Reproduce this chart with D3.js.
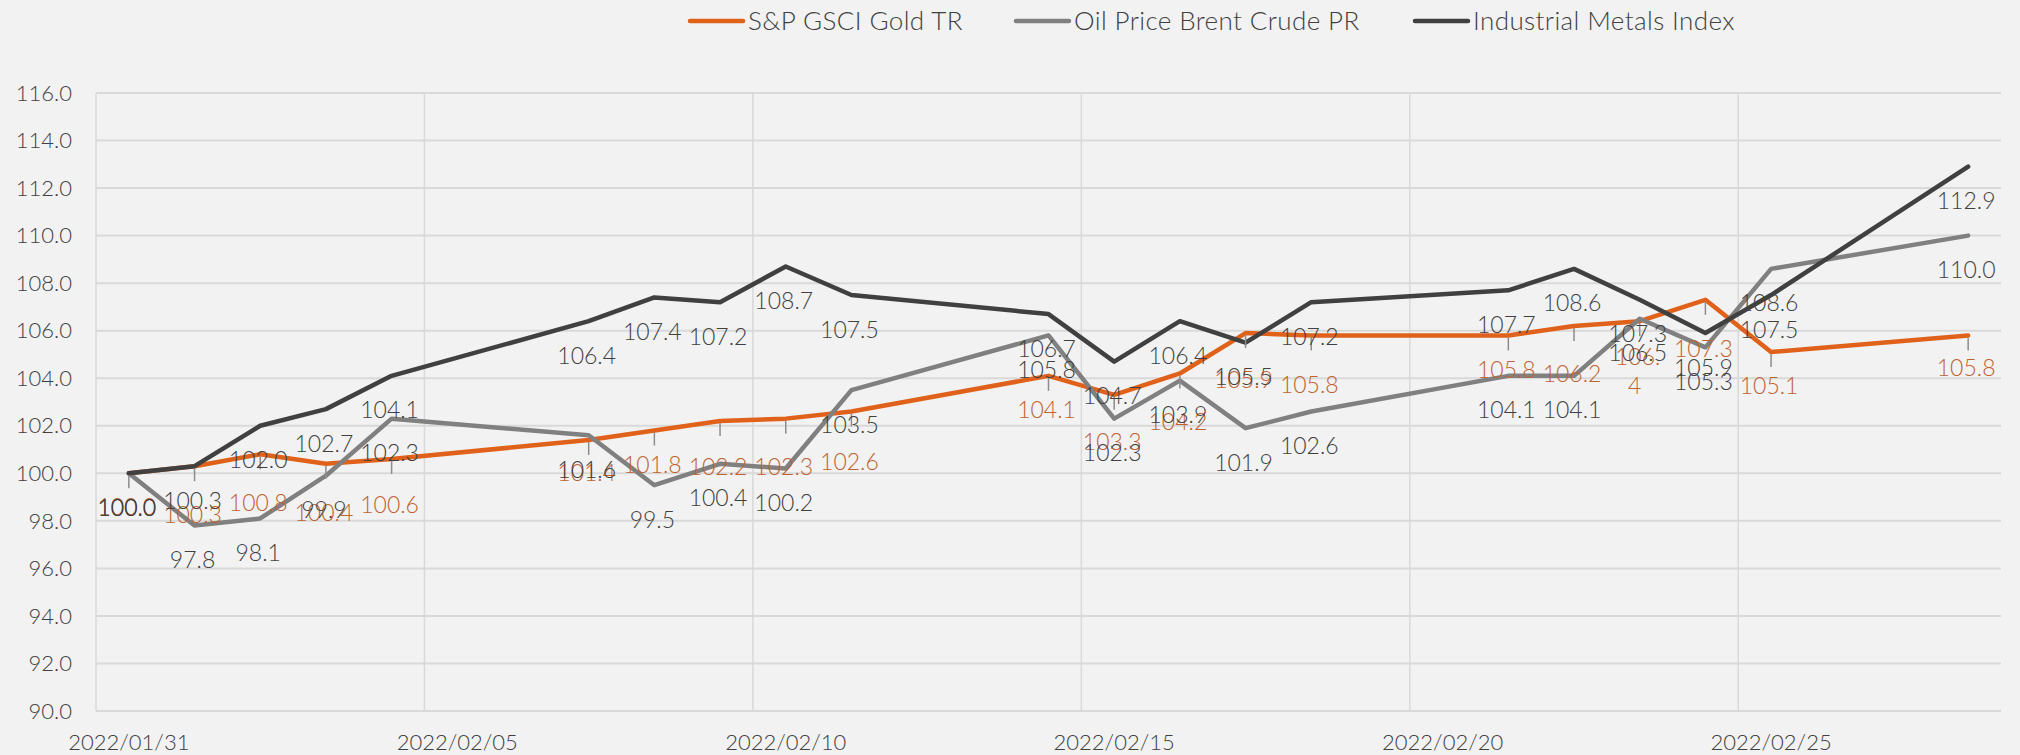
<!DOCTYPE html>
<html>
<head>
<meta charset="utf-8">
<script src="https://cdn.jsdelivr.net/npm/d3@7"></script>
<style>
  body { margin: 0; background: #f2f2f2; }
  svg text { font-family: Lato, "Open Sans", sans-serif; font-weight: 300; }
</style>
</head>
<body>
<div id="chart"></div>
<script>
// Trading days shown on the chart
const dates = [
  '2022-01-31', '2022-02-01', '2022-02-02', '2022-02-03', '2022-02-04',
  '2022-02-07', '2022-02-08', '2022-02-09', '2022-02-10', '2022-02-11',
  '2022-02-14', '2022-02-15', '2022-02-16', '2022-02-17', '2022-02-18',
  '2022-02-21', '2022-02-22', '2022-02-23', '2022-02-24', '2022-02-25',
  '2022-02-28'
];

// Rebased index values (2022/01/31 = 100)
const goldValues = [100.0, 100.3, 100.8, 100.4, 100.6, 101.4, 101.8, 102.2, 102.3, 102.6,
  104.1, 103.3, 104.2, 105.9, 105.8, 105.8, 106.2, 106.4, 107.3, 105.1, 105.8];
const oilValues = [100.0, 97.8, 98.1, 99.9, 102.3, 101.6, 99.5, 100.4, 100.2, 103.5,
  105.8, 102.3, 103.9, 101.9, 102.6, 104.1, 104.1, 106.5, 105.3, 108.6, 110.0];
const metalsValues = [100.0, 100.3, 102.0, 102.7, 104.1, 106.4, 107.4, 107.2, 108.7, 107.5,
  106.7, 104.7, 106.4, 105.5, 107.2, 107.7, 108.6, 107.3, 105.9, 107.5, 112.9];

const seriesNames = ['S&P GSCI Gold TR', 'Oil Price Brent Crude PR', 'Industrial Metals Index'];
const yTicks = [90, 92, 94, 96, 98, 100, 102, 104, 106, 108, 110, 112, 114, 116];
const xTickDates = ['2022-01-31', '2022-02-05', '2022-02-10', '2022-02-15', '2022-02-20', '2022-02-25'];
const xDomain = ['2022-01-31', '2022-03-01'];

// Layout: how far below its point each gold label sits (labels were dragged by hand)
const goldLabelDy = [34, 49, 49, 49, 46, 33, 34, 46, 48, 50, 34, 47, 48, 47, 50, 35, 48, 36, 49, 34, 33];
const goldWrapIndex = 17;   // "106.4" wraps to two lines in the original

const CONFIG = {
  width: 2020,
  height: 755,
  margin: { left: 96, right: 2001, top: 93, bottom: 711 },
  colors: ['#e0611a', '#808080', '#404040'],
  labelColors: ['#bf6230', '#404040', '#404040'],
  grid: '#d9d9d9',
  lineWidth: 4.5
};

const parse = d3.timeParse('%Y-%m-%d');
const dayDates = dates.map(parse);

const svg = d3.select('#chart')
  .append('svg')
  .attr('width', CONFIG.width)
  .attr('height', CONFIG.height)
  .style('background', '#f2f2f2');

const x = d3.scaleTime()
  .domain(xDomain.map(parse))
  .range([CONFIG.margin.left, CONFIG.margin.right]);

const y = d3.scaleLinear()
  .domain([90, 116])
  .range([CONFIG.margin.bottom, CONFIG.margin.top]);

// points sit in the middle of their day, like an Excel date axis
const xMid = d => x(d3.timeHour.offset(d, 12));

// horizontal gridlines
svg.append('g')
  .selectAll('line')
  .data(yTicks)
  .join('line')
  .attr('x1', CONFIG.margin.left)
  .attr('x2', CONFIG.margin.right)
  .attr('y1', d => y(d))
  .attr('y2', d => y(d))
  .attr('stroke', CONFIG.grid)
  .attr('stroke-width', 2);

// vertical gridlines
svg.append('g')
  .selectAll('line')
  .data(xTickDates.map(parse))
  .join('line')
  .attr('x1', d => x(d))
  .attr('x2', d => x(d))
  .attr('y1', CONFIG.margin.top)
  .attr('y2', CONFIG.margin.bottom)
  .attr('stroke', CONFIG.grid)
  .attr('stroke-width', 1.5);

// y axis labels
svg.append('g')
  .selectAll('text')
  .data(yTicks)
  .join('text')
  .attr('x', 72)
  .attr('y', d => y(d))
  .attr('dy', '0.35em')
  .attr('text-anchor', 'end')
  .style('font-size', '22px')
  .style('fill', '#404040')
  .text(d3.format('.1f'));

// x axis labels
svg.append('g')
  .selectAll('text')
  .data(xTickDates.map(parse))
  .join('text')
  .attr('x', d => xMid(d))
  .attr('y', 750)
  .attr('text-anchor', 'middle')
  .style('font-size', '22px')
  .style('fill', '#404040')
  .text(d3.timeFormat('%Y/%m/%d'));

const allSeries = [goldValues, oilValues, metalsValues];

const line = d3.line()
  .x((d, i) => xMid(dayDates[i]))
  .y(d => y(d));

// lines
allSeries.forEach((values, s) => {
  svg.append('path')
    .datum(values)
    .attr('d', line)
    .attr('fill', 'none')
    .attr('stroke', CONFIG.colors[s])
    .attr('stroke-width', CONFIG.lineWidth)
    .attr('stroke-linejoin', 'round')
    .attr('stroke-linecap', 'round');
});

// leader lines for the gold labels
svg.append('g')
  .selectAll('line')
  .data(goldValues)
  .join('line')
  .attr('x1', (d, i) => xMid(dayDates[i]))
  .attr('x2', (d, i) => xMid(dayDates[i]))
  .attr('y1', d => y(d) + 2)
  .attr('y2', d => y(d) + 15)
  .attr('stroke', '#8c8c8c')
  .attr('stroke-width', 1.5);

// data labels
allSeries.forEach((values, s) => {
  const g = svg.append('g');
  values.forEach((v, i) => {
    const dy = s === 0 ? goldLabelDy[i] : 34.5;
    const t = g.append('text')
      .attr('x', xMid(dayDates[i]) - 2)
      .attr('y', y(v) + dy)
      .attr('dy', '0.35em')
      .attr('text-anchor', 'middle')
      .style('font-size', '23px')
      .style('fill', CONFIG.labelColors[s]);
    if (s === 0 && i === goldWrapIndex) {
      const str = v.toFixed(1);
      t.text(str.slice(0, 4));
      g.append('text')
        .attr('x', xMid(dayDates[i]) - 5)
        .attr('y', y(v) + dy + 29)
        .attr('dy', '0.35em')
        .attr('text-anchor', 'middle')
        .style('font-size', '23px')
        .style('fill', CONFIG.labelColors[s])
        .text(str.slice(4));
    } else {
      t.text(v.toFixed(1));
    }
  });
});

// legend
const legendX = [690, 1016, 1415];
seriesNames.forEach((name, s) => {
  const lg = svg.append('g').attr('transform', `translate(${legendX[s]}, 21)`);
  lg.append('line')
    .attr('x1', 0)
    .attr('x2', 53)
    .attr('stroke', CONFIG.colors[s])
    .attr('stroke-width', CONFIG.lineWidth)
    .attr('stroke-linecap', 'round');
  lg.append('text')
    .attr('x', 58)
    .attr('dy', '0.35em')
    .style('font-size', '26px')
    .style('letter-spacing', '0.4px')
    .style('fill', '#404040')
    .text(name);
});
</script>
</body>
</html>
